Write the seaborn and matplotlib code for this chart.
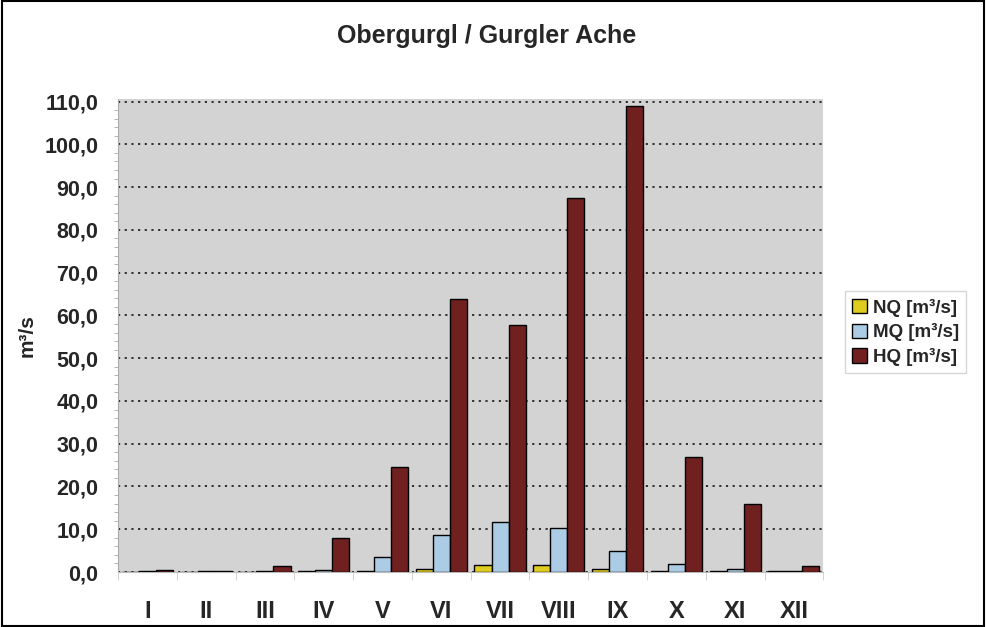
import seaborn as sns
import matplotlib.pyplot as plt
import matplotlib.ticker as mticker
from matplotlib.patches import Rectangle
import pandas as pd

months = ['I', 'II', 'III', 'IV', 'V', 'VI', 'VII', 'VIII', 'IX', 'X', 'XI', 'XII']
nq = [0.1, 0.1, 0.1, 0.15, 0.2, 0.8, 1.7, 1.7, 0.6, 0.3, 0.2, 0.15]
mq = [0.2, 0.15, 0.2, 0.5, 3.5, 8.6, 11.7, 10.2, 4.9, 1.8, 0.7, 0.3]
hq = [0.5, 0.3, 1.3, 8.0, 24.5, 63.8, 57.8, 87.5, 109.0, 26.8, 15.8, 1.3]
series = ['NQ [m³/s]', 'MQ [m³/s]', 'HQ [m³/s]']
colors = ['#FFE600', '#A3CDEE', '#7E1213']

df = pd.DataFrame({
    'Monat': months * 3,
    'Wert': nq + mq + hq,
    'Reihe': [s for s in series for _ in months],
})

sns.set_style('white')
plt.rcParams['font.family'] = ['Liberation Sans', 'DejaVu Sans']
plt.rcParams['font.weight'] = 'bold'

fig = plt.figure(figsize=(9.86, 6.27), dpi=100)
ax = fig.add_axes([0.1197, 0.0877, 0.7153, 0.7543])
ax.set_facecolor('#D3D3D3')

sns.barplot(data=df, x='Monat', y='Wert', hue='Reihe', palette=colors,
            width=0.87, edgecolor='black', linewidth=1.0, ax=ax, zorder=3)

ax.set_ylim(0, 110.6)
ax.set_xlim(-0.5, 11.5)
ax.yaxis.set_major_locator(mticker.MultipleLocator(10))
ax.yaxis.set_minor_locator(mticker.MultipleLocator(2))
ax.yaxis.set_major_formatter(mticker.FuncFormatter(lambda v, p: f'{v:.1f}'.replace('.', ',')))
ax.grid(axis='y', which='major', color='#222222', linestyle=(0, (1.2, 2.5)), linewidth=1.3, zorder=1)
ax.set_axisbelow(True)

for s in ['top', 'right']:
    ax.spines[s].set_visible(False)
ax.spines['left'].set_color('#AAAAAA')
ax.spines['bottom'].set_color('#BBBBBB')

ax.tick_params(axis='y', which='major', labelsize=15.5, length=4, color='#999999', pad=10)
ax.tick_params(axis='y', which='minor', length=3, color='#AAAAAA', left=True)
ax.tick_params(axis='x', which='major', labelsize=17, length=0, pad=20)
ax.set_xticks([i - 0.5 for i in range(13)], minor=True)
ax.tick_params(axis='x', which='minor', length=6, color='#CCCCCC', bottom=True)

ax.set_xlabel('')
ax.set_ylabel('m³/s', fontsize=15, fontweight='bold', labelpad=6)
fig.text(0.494, 0.942, 'Obergurgl / Gurgler Ache', fontsize=18, fontweight='bold',
         ha='center', va='center')

ax.legend(loc='center left', bbox_to_anchor=(1.017, 0.507), frameon=True, fancybox=False,
          edgecolor='#CCCCCC', handlelength=0.8, handleheight=0.8,
          handletextpad=0.3, borderpad=0.4, labelspacing=0.35, prop={'weight': 'bold', 'size': 13.5})

fig.add_artist(Rectangle((0.002, 0.002), 0.996, 0.996, transform=fig.transFigure,
                         fill=False, edgecolor='black', linewidth=1.5))

fig.savefig('out.png', dpi=100)
